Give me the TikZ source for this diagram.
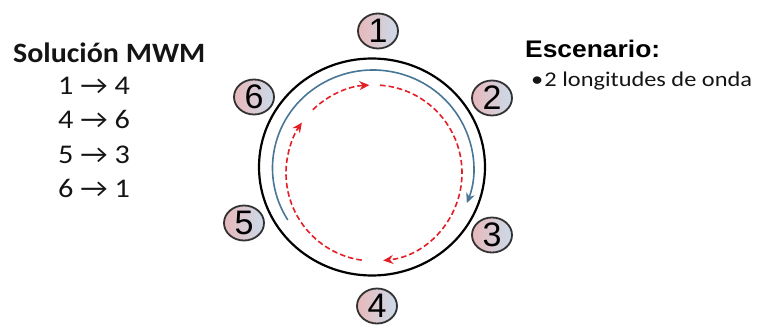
\documentclass[tikz,border=0pt]{standalone}
\usepackage{graphicx}
\usepackage{fontspec}
\setmainfont{Carlito}
\newfontfamily\arialfont{Liberation Sans}
\usetikzlibrary{arrows.meta,calc,shapes.geometric}
\definecolor{nodepink}{RGB}{232,184,186}
\definecolor{nodeblue}{RGB}{203,219,234}
\definecolor{nodeedge}{RGB}{50,50,50}
\definecolor{pathblue}{RGB}{72,118,150}
\definecolor{pathred}{RGB}{228,30,38}
\definecolor{textdark}{RGB}{20,20,20}
\tikzset{
  ringnode/.style={ellipse, draw=nodeedge, line width=1.8pt, minimum width=40pt, minimum height=35pt,
    inner sep=0pt, left color=nodepink, right color=nodeblue,
    font=\arialfont\fontsize{34}{34}\selectfont, text=black},
  bluepath/.style={draw=pathblue, line width=1.6pt, -{Stealth[length=10pt,width=9pt]}},
  redpath/.style={draw=pathred, line width=1.6pt, dash pattern=on 5.5pt off 3pt,
    -{Stealth[length=10pt,width=9pt,fill=pathred]}},
  listtext/.style={anchor=base west, inner sep=0pt, text=textdark, font=\fontsize{27}{28}\selectfont}
}
\begin{document}
\begin{tikzpicture}[x=1pt,y=1pt]
\useasboundingbox (0,0) rectangle (759,327);
% centres
\coordinate (ringc) at (372,160);
\coordinate (bluec) at (373,159);
\coordinate (redc) at (374,154);
% ring
\draw[line width=2.2pt, black] (ringc) ellipse [x radius=113pt, y radius=108.5pt];
% blue lightpath 5 -> 3
\draw[bluepath] ([shift={(212:100.5pt and 98pt)}]bluec) arc[start angle=212, end angle=-21, x radius=100.5pt, y radius=98pt];
% red lightpaths
\draw[redpath] ([shift={(86:88pt)}]redc) arc[start angle=86, end angle=-84, radius=88pt];
\draw[redpath] ([shift={(262:88pt)}]redc) arc[start angle=262, end angle=145, radius=88pt];
\draw[redpath] ([shift={(134:88pt)}]redc) arc[start angle=134, end angle=93, radius=88pt];
% nodes
\node[ringnode] (n1) at (378,296) {1};
\node[ringnode] (n2) at (492,229) {2};
\node[ringnode] (n3) at (492,92) {3};
\node[ringnode] (n4) at (377,21) {4};
\node[ringnode] (n5) at (244,104) {5};
\node[ringnode] (n6) at (254,230) {6};
% left text
\node[listtext, font=\bfseries\fontsize{28}{29}\selectfont] (title) at (13,264) {\scalebox{1.07}[1]{Solución MWM}};
\node[listtext] (r1) at (58,232) {\scalebox{1.12}[1]{1 → 4}};
\node[listtext] (r2) at (58,198) {\scalebox{1.12}[1]{4 → 6}};
\node[listtext] (r3) at (58,164) {\scalebox{1.12}[1]{5 → 3}};
\node[listtext] (r4) at (58,130) {\scalebox{1.12}[1]{6 → 1}};
% right text
\node[anchor=base west, inner sep=0pt, text=black, font=\arialfont\bfseries\fontsize{24}{25}\selectfont] (esc) at (525,269) {\scalebox{1.1}[1]{Escenario:}};
\node[anchor=base west, inner sep=0pt, text=textdark, font=\fontsize{21}{22}\selectfont] (bul) at (531,240) {\scalebox{1.16}[1]{•\kern1pt 2 longitudes de onda}};
\end{tikzpicture}
\end{document}
